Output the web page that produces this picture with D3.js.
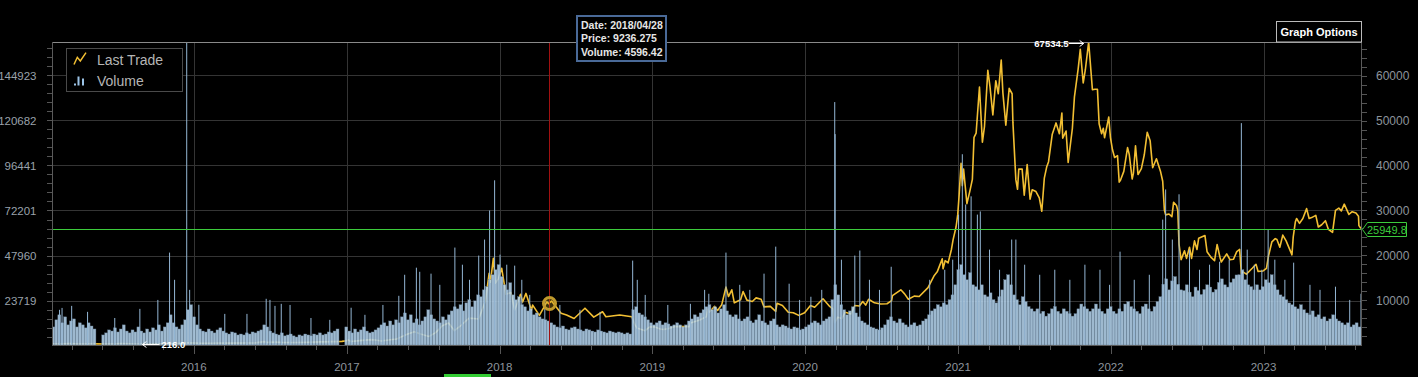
<!DOCTYPE html>
<html>
<head>
<meta charset="utf-8">
<script src="https://cdn.jsdelivr.net/npm/d3@7"></script>
<style>
  body { margin: 0; background: #000; }
  svg { display: block; font-family: "Liberation Sans", Arial, sans-serif; }
</style>
</head>
<body>
<svg id="chart" width="1418" height="377"></svg>
<script>
// ---- data ----
let lastTrade = [
  ["2015-01-27",272],["2015-02-10",220],["2015-02-20",245],["2015-03-11",296],["2015-03-25",247],["2015-04-14",219],
  ["2015-05-10",241],["2015-06-01",224],["2015-06-28",250],["2015-07-12",310],["2015-07-31",284],["2015-08-18",230],
  ["2015-08-24",216],["2015-09-15",230],["2015-10-05",240],["2015-10-25",288],["2015-11-04",403],["2015-11-11",305],
  ["2015-11-30",378],["2015-12-15",465],["2015-12-31",430],
  ["2016-01-15",378],["2016-02-10",380],["2016-03-01",432],["2016-03-31",416],["2016-04-30",448],["2016-05-27",472],
  ["2016-06-17",750],["2016-06-23",590],["2016-07-15",666],["2016-08-02",545],["2016-08-31",574],["2016-09-30",609],
  ["2016-10-31",700],["2016-11-30",742],["2016-12-20",800],["2016-12-31",963],
  ["2017-01-04",1130],["2017-01-11",780],["2017-01-31",970],["2017-02-28",1190],["2017-03-10",1100],["2017-03-24",890],
  ["2017-04-15",1180],["2017-04-30",1350],["2017-05-25",2400],["2017-06-11",2960],["2017-06-26",2450],["2017-07-16",1900],
  ["2017-08-01",2750],["2017-08-17",4300],["2017-09-01",4900],["2017-09-15",3200],["2017-10-01",4400],["2017-10-20",6000],
  ["2017-11-12",5800],["2017-11-28",9800],["2017-12-07",16000],["2017-12-10",14000],["2017-12-17",19300],["2017-12-22",13800],
  ["2017-12-29",14800],
  ["2018-01-06",17100],["2018-01-16",11300],["2018-01-28",11700],["2018-02-06",7800],["2018-02-20",11300],["2018-02-25",9600],
  ["2018-03-05",11500],["2018-03-18",7800],["2018-03-21",8900],["2018-04-06",6600],["2018-04-24",9600],["2018-04-28",9236.275],
  ["2018-05-05",9800],["2018-05-28",7100],["2018-06-10",6700],["2018-06-28",5900],["2018-07-24",8200],["2018-08-14",6200],
  ["2018-09-04",7400],["2018-09-12",6300],["2018-10-15",6700],["2018-11-13",6300],["2018-11-20",4600],["2018-11-25",3800],
  ["2018-12-15",3200],["2018-12-25",4000],
  ["2019-01-06",4050],["2019-01-20",3550],["2019-01-28",3450],["2019-02-08",3650],["2019-02-24",4100],["2019-03-31",4100],
  ["2019-04-02",4900],["2019-04-23",5500],["2019-05-10",6300],["2019-05-14",8000],["2019-05-17",7300],["2019-05-30",8600],
  ["2019-06-06",7700],["2019-06-16",9000],["2019-06-26",12900],["2019-07-02",10800],["2019-07-10",12300],["2019-07-16",9400],
  ["2019-07-31",10100],["2019-08-06",11900],["2019-08-15",10000],["2019-08-28",9700],["2019-09-06",10500],["2019-09-18",10200],
  ["2019-09-25",8500],["2019-10-10",8600],["2019-10-23",7500],["2019-10-26",9300],["2019-11-08",8800],["2019-11-22",7300],
  ["2019-12-04",7200],["2019-12-17",6600],["2019-12-31",7200],
  ["2020-01-14",8800],["2020-01-24",8400],["2020-02-13",10300],["2020-02-29",8600],["2020-03-08",8000],["2020-03-12",4900],
  ["2020-03-19",6200],["2020-03-29",5900],["2020-04-06",7300],["2020-04-20",6900],["2020-04-29",8800],["2020-05-10",8700],
  ["2020-05-18",9700],["2020-05-25",8900],["2020-06-01",10200],["2020-06-15",9400],["2020-06-30",9150],["2020-07-15",9200],
  ["2020-07-26",9900],["2020-07-28",11000],["2020-08-17",12300],["2020-08-26",11400],["2020-09-04",10200],["2020-09-18",10900],
  ["2020-09-30",10800],["2020-10-21",12800],["2020-11-05",15500],["2020-11-12",16300],["2020-11-24",19200],["2020-11-26",17000],
  ["2020-12-01",18800],["2020-12-08",18300],["2020-12-16",21300],["2020-12-20",23500],["2020-12-27",26300],["2020-12-31",29000],
  ["2021-01-03",32900],["2021-01-08",40500],["2021-01-11",35500],["2021-01-14",39200],["2021-01-22",31500],["2021-01-29",34300],
  ["2021-02-04",36900],["2021-02-08",46300],["2021-02-13",47200],["2021-02-21",57500],["2021-02-28",45200],["2021-03-05",48700],
  ["2021-03-13",61200],["2021-03-18",57700],["2021-03-25",51300],["2021-04-01",58900],["2021-04-07",56000],["2021-04-14",63500],
  ["2021-04-18",56200],["2021-04-25",49000],["2021-05-03",57200],["2021-05-10",56000],["2021-05-12",49500],["2021-05-19",36800],
  ["2021-05-23",34700],["2021-05-26",39200],["2021-06-03",39200],["2021-06-08",33400],["2021-06-15",40200],["2021-06-22",32500],
  ["2021-06-27",34600],["2021-07-06",34200],["2021-07-14",32800],["2021-07-20",29800],["2021-07-26",37200],["2021-08-01",39800],
  ["2021-08-05",40800],["2021-08-14",47000],["2021-08-23",49500],["2021-08-31",47100],["2021-09-06",51700],["2021-09-08",46100],
  ["2021-09-16",47700],["2021-09-21",40700],["2021-10-01",48200],["2021-10-06",55300],["2021-10-15",61600],["2021-10-20",65900],
  ["2021-10-27",58400],["2021-11-01",61300],["2021-11-09",67534.5],["2021-11-12",64000],["2021-11-18",56900],["2021-11-24",57000],
  ["2021-11-30",57000],["2021-12-04",49300],["2021-12-10",47100],["2021-12-14",48300],["2021-12-17",46200],["2021-12-27",50800],
  ["2021-12-31",46300],
  ["2022-01-05",43500],["2022-01-10",41800],["2022-01-17",42200],["2022-01-21",36300],["2022-01-24",36700],["2022-02-01",38700],
  ["2022-02-10",44000],["2022-02-14",42500],["2022-02-21",37000],["2022-02-24",38300],["2022-03-01",44400],["2022-03-07",38000],
  ["2022-03-15",39300],["2022-03-22",42400],["2022-03-29",47400],["2022-04-05",45500],["2022-04-11",39500],["2022-04-20",41500],
  ["2022-04-30",38600],["2022-05-05",36500],["2022-05-09",30100],["2022-05-12",29000],["2022-05-20",29200],["2022-05-27",28600],
  ["2022-05-31",31800],["2022-06-07",31100],["2022-06-10",30000],["2022-06-13",22500],["2022-06-18",19000],["2022-06-26",21000],
  ["2022-07-01",19300],["2022-07-08",21800],["2022-07-13",19300],["2022-07-20",23200],["2022-07-26",21300],["2022-07-30",23800],
  ["2022-08-14",24400],["2022-08-19",20800],["2022-08-28",19600],["2022-09-06",18800],["2022-09-12",22400],["2022-09-19",19500],
  ["2022-09-22",18500],["2022-10-05",20300],["2022-10-13",19000],["2022-10-21",19100],["2022-10-29",20800],["2022-11-05",21300],
  ["2022-11-09",15900],["2022-11-13",16300],["2022-11-21",15800],["2022-12-05",17100],["2022-12-14",18000],["2022-12-19",16400],
  ["2022-12-31",16500],
  ["2023-01-08",17100],["2023-01-13",19900],["2023-01-21",23000],["2023-01-29",23700],["2023-02-02",23500],["2023-02-09",21800],
  ["2023-02-16",24500],["2023-02-24",23200],["2023-03-10",20100],["2023-03-13",24100],["2023-03-18",27400],["2023-03-21",28200],
  ["2023-03-28",27100],["2023-04-05",28200],["2023-04-14",30400],["2023-04-20",28200],["2023-04-26",28400],["2023-05-06",28900],
  ["2023-05-12",26300],["2023-05-20",26800],["2023-05-29",27700],["2023-06-05",25800],["2023-06-15",25100],["2023-06-22",30000],
  ["2023-06-30",30500],["2023-07-06",29900],["2023-07-13",31400],["2023-07-24",29100],["2023-08-01",29700],["2023-08-10",29400],
  ["2023-08-16",28700],["2023-08-17",26600],["2023-08-22",25949.8]
];

// weekly volume (thousands), weeks starting 2015-01-27
let volumeStart = "2015-01-27";
let weeklyVolumeK = [
  9.7,13.5,16.2,11.9,15.1,10.8,12.9,14.0,9.7,11.9,10.8,9.2,11.9,10.2,8.6,
  0,0,
  5.4,6.5,8.1,7.5,9.2,7.0,8.6,10.8,7.5,6.5,8.1,7.0,9.7,7.5,6.5,8.6,7.0,9.2,8.1,10.8,7.5,9.7,11.9,
  16.2,11.9,9.7,8.6,10.8,13.5,18.9,
  21.6,15.1,10.8,8.6,7.5,7.0,8.6,7.5,6.5,8.1,9.2,7.5,6.5,5.9,7.0,6.5,5.4,
  5.9,5.4,6.5,5.9,7.0,6.5,7.5,8.1,10.8,9.7,
  7.5,6.5,5.9,5.4,6.5,4.9,5.4,5.9,4.9,4.3,5.4,4.9,5.9,5.4,4.9,5.9,5.4,6.5,5.4,5.9,7.0,6.5,7.5,8.6,
  0,0,
  9.7,7.5,6.5,8.6,7.0,8.1,9.7,7.5,6.5,7.0,8.1,9.2,10.8,11.9,10.2,12.9,10.8,13.5,
  11.9,15.1,17.2,13.5,16.2,11.9,14.0,10.8,12.9,15.1,18.9,16.2,14.0,12.9,11.9,15.1,13.5,16.2,18.3,
  20.5,19.4,21.6,18.3,22.6,24.3,20.5,23.7,26.9,25.9,29.6,31.3,35.0,
  37.7,40.4,43.1,36.7,32.3,29.6,33.4,
  26.9,24.3,25.9,21.6,20.5,18.3,19.4,16.2,17.2,15.1,14.0,13.5,12.9,
  11.9,10.8,9.7,9.2,10.2,8.6,8.1,9.2,9.7,8.6,8.1,7.5,8.6,8.1,7.5,7.0,8.1,7.5,7.0,6.5,7.5,7.0,6.5,7.0,6.5,5.9,6.5,
  5.9,18.9,20.5,
  17.2,16.2,15.1,13.5,11.9,10.8,11.9,12.9,10.8,11.9,11.3,10.2,10.8,11.9,10.8,9.7,10.8,12.9,14.0,16.2,15.1,17.2,18.9,20.5,
  21.6,18.9,20.5,17.2,19.4,21.6,18.3,16.2,15.1,16.2,14.0,12.9,14.0,15.1,12.9,11.9,13.5,16.2,
  12.9,11.9,10.8,12.9,14.0,10.8,9.7,10.8,10.2,9.2,8.6,9.7,9.2,8.1,8.6,9.7,10.8,11.9,12.9,11.9,10.8,12.9,14.0,
  15.1,24.3,32.3,26.9,
  21.6,18.9,16.2,18.3,20.5,17.2,15.1,12.9,11.9,10.8,9.7,9.2,8.6,8.1,9.2,10.8,13.5,
  15.1,12.9,11.9,14.0,11.9,10.8,9.7,10.8,11.9,10.2,10.8,12.9,14.0,
  16.2,18.3,19.4,21.6,20.5,22.6,21.6,24.3,26.9,
  32.3,40.4,43.1,37.7,35.0,38.8,32.3,31.3,29.6,32.3,26.9,25.9,28.0,24.3,22.6,25.9,29.6,35.0,37.7,32.3,26.9,24.3,21.6,
  25.9,23.3,20.6,19.4,18.1,19.4,16.8,18.1,15.5,16.8,19.4,20.6,18.1,16.8,19.4,18.1,16.8,15.5,16.8,19.4,22.0,20.6,19.4,18.1,
  19.4,22.0,19.4,18.1,16.8,19.4,20.6,18.1,16.8,19.4,18.1,22.0,23.3,20.6,19.4,18.1,16.8,20.6,22.0,19.4,18.1,20.6,23.3,25.9,
  32.6,35.5,29.6,34.4,36.7,32.6,29.6,
  29.2,32.3,28.4,25.9,31.1,29.2,27.1,29.8,32.3,31.1,28.4,29.8,33.6,35.5,32.3,31.1,33.6,35.5,37.6,
  37.7,40.4,35.0,32.3,31.3,29.6,32.3,29.6,31.3,35.0,33.4,37.7,32.3,
  29.6,26.9,25.9,24.3,22.6,21.6,20.5,19.4,21.6,18.9,17.2,16.2,18.3,15.1,16.2,14.0,15.1,12.9,14.0,16.2,14.0,12.9,11.9,10.8,
  11.9,9.7,10.8,11.9,9.7
];

// single-day volume spikes (thousands)
let volumeSpikes = [
  ["2015-02-14",18.9],["2015-02-20",19.9],["2015-03-15",21.0],["2015-04-22",17.8],["2015-06-26",14.5],["2015-08-25",19.4],
  ["2015-10-07",24.2],["2015-11-04",49.6],["2015-11-16",35.0],["2015-12-15",175],["2015-12-22",29.6],
  ["2016-01-13",21.6],["2016-03-15",16.7],["2016-05-07",16.7],["2016-06-22",24.8],["2016-07-01",24.2],["2016-07-13",21.0],
  ["2016-07-28",22.1],["2016-08-18",21.5],["2016-10-07",14.5],["2016-11-21",13.5],
  ["2017-01-11",20.0],["2017-02-13",16.2],["2017-03-28",21.5],["2017-05-05",26.4],["2017-05-19",37.7],["2017-06-16",41.5],
  ["2017-06-24",39.3],["2017-07-21",38.3],["2017-08-11",32.3],["2017-09-16",52.3],["2017-10-04",43.1],["2017-10-21",35.0],
  ["2017-11-12",48.0],["2017-11-26",56.6],["2017-12-08",72.2],["2017-12-20",88.4],
  ["2018-01-02",48.5],["2018-01-18",43.1],["2018-02-06",42.6],["2018-02-23",35.0],["2018-03-14",26.9],["2018-04-19",24.2],
  ["2018-05-25",21.5],["2018-07-12",18.9],["2018-08-29",17.8],["2018-11-15",45.3],["2018-11-26",35.0],["2018-12-15",26.9],
  ["2019-02-07",21.5],["2019-04-02",22.1],["2019-05-06",29.6],["2019-05-16",27.5],["2019-06-26",49.6],["2019-07-29",32.3],
  ["2019-08-22",29.6],["2019-09-25",38.3],["2019-10-23",52.8],["2019-11-24",32.9],["2019-12-19",24.2],
  ["2020-01-15",25.9],["2020-02-10",29.6],["2020-03-12",130.4],["2020-03-13",113.2],["2020-03-28",45.8],["2020-04-29",48.0],
  ["2020-05-11",50.7],["2020-06-03",35.0],["2020-06-27",29.6],["2020-07-25",42.0],["2020-09-07",29.6],["2020-10-25",35.0],
  ["2020-11-30",40.4],["2020-12-19",45.8],
  ["2021-01-02",70.0],["2021-01-11",102.4],["2021-01-19",75.4],["2021-02-01",79.8],["2021-02-16",70.0],["2021-02-23",71.7],
  ["2021-03-17",51.2],["2021-04-10",40.4],["2021-05-09",56.6],["2021-05-19",56.6],["2021-06-09",43.1],["2021-07-15",37.7],
  ["2021-08-20",40.4],["2021-09-25",35.0],["2021-10-31",43.1],["2021-12-06",40.4],["2021-12-29",32.3],
  ["2022-01-23",50.1],["2022-02-26",35.0],["2022-04-03",37.7],["2022-05-05",67.3],["2022-05-12",83.5],["2022-05-28",56.6],
  ["2022-06-13",80.9],["2022-07-08",51.2],["2022-08-01",40.4],["2022-08-25",43.1],["2022-09-18",44.7],["2022-10-11",45.8],
  ["2022-11-09",119.1],["2022-11-23",51.2],["2022-12-10",43.1],["2022-12-28",40.4],
  ["2023-01-12",62.0],["2023-01-28",45.8],["2023-02-21",35.0],["2023-03-14",44.2],["2023-04-22",32.3],["2023-05-16",29.6],
  ["2023-06-22",31.3],["2023-07-26",24.2],["2023-08-22",27.5]
];

let volumeTicks = [23719, 47960, 72201, 96441, 120682, 144923];
let priceTicks = [10000, 20000, 30000, 40000, 50000, 60000];
let yearTicks = ["2016","2017","2018","2019","2020","2021","2022","2023"];
let hoverPoint = {date: "2018-04-28", price: 9236.275, volume: 4596.42};
let seriesNames = ["Last Trade", "Volume"];

// ---- chart ----
let width = 1418, height = 377;
let plot = {left: 52, right: 1361, top: 42, bottom: 345};
let parse = d3.utcParse("%Y-%m-%d");
let fmtDate = d3.utcFormat("%Y/%m/%d");

function make_scales() {
  return {
    x: d3.scaleUtc()
      .domain([parse("2015-01-27"), parse("2023-08-22")])
      .range([plot.left, plot.right]),
    price: d3.scaleLinear()
      .domain([0, 67534.5])
      .range([plot.bottom, plot.top]),
    vol: d3.scaleLinear()
      .domain([0, 162640])
      .range([plot.bottom, plot.top])
  }
}

let scales = make_scales();
let svg = d3.select("#chart");

svg.append("rect")
  .attr("width", width).attr("height", height).attr("fill", "#000");

svg.append("defs").append("clipPath").attr("id", "clip")
  .append("rect")
  .attr("x", plot.left).attr("y", plot.top)
  .attr("width", plot.right - plot.left).attr("height", plot.bottom - plot.top);

// grid
let grid = svg.append("g").attr("stroke", "#343434").attr("stroke-width", 1);
grid.selectAll("line.h").data(volumeTicks).enter().append("line")
  .attr("x1", plot.left).attr("x2", plot.right)
  .attr("y1", d => Math.round(scales.vol(d)) + 0.5)
  .attr("y2", d => Math.round(scales.vol(d)) + 0.5);
grid.selectAll("line.v").data(yearTicks).enter().append("line")
  .attr("y1", plot.top).attr("y2", plot.bottom)
  .attr("x1", d => Math.round(scales.x(parse(d + "-01-01"))) + 0.5)
  .attr("x2", d => Math.round(scales.x(parse(d + "-01-01"))) + 0.5);

let body = svg.append("g").attr("clip-path", "url(#clip)");

// price line (under the volume bars)
let priceData = lastTrade.map(d => ({date: parse(d[0]), value: d[1]}));
let line = d3.line()
  .x(d => scales.x(d.date))
  .y(d => scales.price(d.value));
body.append("path")
  .datum(priceData)
  .attr("d", line)
  .attr("fill", "none")
  .attr("stroke", "#f2bf33")
  .attr("stroke-width", 1.6)
  .attr("stroke-linejoin", "round");

// volume bars
let t0 = parse(volumeStart);
let volData = weeklyVolumeK.map((v, i) => ({
  date: d3.utcDay.offset(t0, 7 * i),
  end: d3.utcDay.offset(t0, 7 * (i + 1)),
  value: v * 1000
}));
body.append("g")
  .selectAll("rect")
  .data(volData).enter()
  .append("rect")
  .attr("x", d => scales.x(d.date))
  .attr("width", d => scales.x(d.end) - scales.x(d.date))
  .attr("y", d => scales.vol(d.value))
  .attr("height", d => scales.vol(0) - scales.vol(d.value))
  .attr("fill", "#b6d4ee")
  .attr("fill-opacity", 0.87)
  .attr("stroke", "#627a90")
  .attr("stroke-width", 0.4);

body.append("g")
  .selectAll("rect")
  .data(volumeSpikes).enter()
  .append("rect")
  .attr("x", d => scales.x(parse(d[0])) - 0.5)
  .attr("width", 1)
  .attr("y", d => scales.vol(d[1] * 1000))
  .attr("height", d => scales.vol(0) - scales.vol(d[1] * 1000))
  .attr("fill", "#94b6d4");

// last price line
let last = priceData[priceData.length - 1];
let yLast = Math.round(scales.price(last.value)) + 0.5;
svg.append("line")
  .attr("x1", plot.left).attr("x2", plot.right)
  .attr("y1", yLast).attr("y2", yLast)
  .attr("stroke", "#3ccc3c").attr("stroke-width", 1);

// hover marker
let hx = Math.round(scales.x(parse(hoverPoint.date))) + 0.5;
svg.append("line")
  .attr("x1", hx).attr("x2", hx)
  .attr("y1", plot.top).attr("y2", plot.bottom)
  .attr("stroke", "#a01010").attr("stroke-width", 1);
svg.append("circle")
  .attr("cx", hx).attr("cy", scales.price(hoverPoint.price))
  .attr("r", 6)
  .attr("fill", "rgba(200,160,40,0.3)")
  .attr("stroke", "#c09a2c").attr("stroke-width", 3);

// frame
let frame = svg.append("g").attr("fill", "none");
frame.append("line").attr("x1", plot.left).attr("x2", plot.right + 1)
  .attr("y1", plot.top + 0.5).attr("y2", plot.top + 0.5).attr("stroke", "#8a8a8a");
frame.append("line").attr("x1", plot.left + 0.5).attr("x2", plot.left + 0.5)
  .attr("y1", plot.top).attr("y2", plot.bottom).attr("stroke", "#5a5a5a");
frame.append("line").attr("x1", plot.right + 0.5).attr("x2", plot.right + 0.5)
  .attr("y1", plot.top).attr("y2", plot.bottom).attr("stroke", "#5a5a5a");
frame.append("line").attr("x1", plot.left).attr("x2", plot.right + 1)
  .attr("y1", plot.bottom + 0.5).attr("y2", plot.bottom + 0.5).attr("stroke", "#5a5a5a");

// left axis (volume)
let volStep = (volumeTicks[1] - volumeTicks[0]) / 5;
let volMinor = d3.range(-4, 30).map(k => volumeTicks[0] + k * volStep)
  .filter(v => v >= 0 && v <= 162640);
svg.append("g").selectAll("line").data(volMinor).enter().append("line")
  .attr("x1", plot.left - 5).attr("x2", plot.left)
  .attr("y1", d => Math.round(scales.vol(d)) + 0.5)
  .attr("y2", d => Math.round(scales.vol(d)) + 0.5)
  .attr("stroke", "#555");
svg.append("g").selectAll("text").data(volumeTicks).enter().append("text")
  .attr("x", 36.5).attr("y", d => scales.vol(d) + 4.5)
  .attr("text-anchor", "end")
  .attr("font-size", 11.5)
  .attr("fill", "#9aa2ab")
  .text(d => d);

// right axis (price)
let priceMinor = d3.range(2000, 67534.5, 2000);
svg.append("g").selectAll("line").data(priceMinor).enter().append("line")
  .attr("x1", plot.right + 1).attr("x2", plot.right + 6)
  .attr("y1", d => Math.round(scales.price(d)) + 0.5)
  .attr("y2", d => Math.round(scales.price(d)) + 0.5)
  .attr("stroke", "#555");
svg.append("g").selectAll("text").data(priceTicks).enter().append("text")
  .attr("x", 1376).attr("y", d => scales.price(d) + 4.5)
  .attr("font-size", 12)
  .attr("fill", "#8d949c")
  .text(d => d);

// bottom axis (time)
let minorDates = [];
for (let y = 2015; y <= 2023; y++) {
  let a = Date.UTC(y, 0, 1), b = Date.UTC(y + 1, 0, 1);
  for (let k = 1; k < 5; k++) minorDates.push(new Date(a + (b - a) * k / 5));
}
minorDates = minorDates.filter(d => d >= scales.x.domain()[0] && d <= scales.x.domain()[1]);
svg.append("g").selectAll("line").data(minorDates).enter().append("line")
  .attr("x1", d => Math.round(scales.x(d)) + 0.5)
  .attr("x2", d => Math.round(scales.x(d)) + 0.5)
  .attr("y1", plot.bottom + 1).attr("y2", plot.bottom + 5)
  .attr("stroke", "#555");
svg.append("g").selectAll("line").data(yearTicks).enter().append("line")
  .attr("x1", d => Math.round(scales.x(parse(d + "-01-01"))) + 0.5)
  .attr("x2", d => Math.round(scales.x(parse(d + "-01-01"))) + 0.5)
  .attr("y1", plot.bottom + 1).attr("y2", plot.bottom + 9)
  .attr("stroke", "#555");
svg.append("g").selectAll("text").data(yearTicks).enter().append("text")
  .attr("x", d => scales.x(parse(d + "-01-01")))
  .attr("y", 371)
  .attr("text-anchor", "middle")
  .attr("font-size", 11.5)
  .attr("fill", "#8d949c")
  .text(d => d);

// min / max labels
let maxP = priceData.reduce((a, b) => b.value > a.value ? b : a);
let minP = priceData.reduce((a, b) => b.value < a.value ? b : a);
let arrow = (g, x1, x2, y) => {
  g.append("line").attr("x1", x1).attr("x2", x2).attr("y1", y).attr("y2", y)
    .attr("stroke", "#fff").attr("stroke-width", 1);
  let s = x2 > x1 ? -1 : 1;
  g.append("path")
    .attr("d", `M${x2 + s * 4},${y - 3}L${x2},${y}L${x2 + s * 4},${y + 3}`)
    .attr("fill", "none").attr("stroke", "#fff").attr("stroke-width", 1);
};
let mx = scales.x(maxP.date), my = Math.round(scales.price(maxP.value)) + 1.5;
let gMax = svg.append("g");
arrow(gMax, mx - 20, mx - 5, my);
gMax.append("text").attr("x", mx - 20).attr("y", my + 3.5)
  .attr("text-anchor", "end").attr("font-size", 9.5).attr("font-weight", "bold")
  .attr("fill", "#fff").text(maxP.value.toFixed(1));
let nx = scales.x(minP.date), ny = Math.round(scales.price(minP.value)) + 0.5;
let gMin = svg.append("g");
arrow(gMin, nx + 20, nx + 3, ny);
gMin.append("text").attr("x", nx + 22).attr("y", ny + 3.5)
  .attr("font-size", 9.5).attr("font-weight", "bold")
  .attr("fill", "#fff").text(minP.value.toFixed(1));

// last price tag
let tag = svg.append("g");
tag.append("path")
  .attr("d", `M${plot.right + 1.5},${yLast}L${plot.right + 6.5},${yLast - 7}L1406.5,${yLast - 7}L1406.5,${yLast + 7}L${plot.right + 6.5},${yLast + 7}Z`)
  .attr("fill", "#000").attr("stroke", "#3ccc3c").attr("stroke-width", 1);
tag.append("text").attr("x", 1367).attr("y", yLast + 4)
  .attr("font-size", 11).attr("fill", "#3ccc3c")
  .text(last.value.toFixed(1));

// legend
let legend = svg.append("g");
legend.append("rect")
  .attr("x", 66.5).attr("y", 48.5).attr("width", 116).attr("height", 43)
  .attr("fill", "#000").attr("stroke", "#4a4a4a");
legend.append("path")
  .attr("d", "M74,64.5L77.3,57.3L80.3,61L86,52.7")
  .attr("fill", "none").attr("stroke", "#f2bf33").attr("stroke-width", 1.5);
legend.append("g").selectAll("rect")
  .data([[74, 2], [77.5, 9], [82, 7]]).enter().append("rect")
  .attr("x", d => d[0]).attr("width", 2)
  .attr("y", d => 85.5 - d[1]).attr("height", d => d[1])
  .attr("fill", "#9cc3e6");
legend.selectAll("text").data(seriesNames).enter().append("text")
  .attr("x", 97).attr("y", (d, i) => 65 + i * 21)
  .attr("font-size", 14).attr("fill", "#b5b5b5")
  .text(d => d);

// tooltip
let tip = svg.append("g");
tip.append("rect")
  .attr("x", 577).attr("y", 16).attr("width", 89).attr("height", 45)
  .attr("fill", "#000").attr("stroke", "#4a6a98").attr("stroke-width", 2);
tip.selectAll("text")
  .data(["Date: " + fmtDate(parse(hoverPoint.date)),
         "Price: " + hoverPoint.price,
         "Volume: " + hoverPoint.volume]).enter()
  .append("text")
  .attr("x", 581).attr("y", (d, i) => 29 + i * 13.3)
  .attr("font-size", 10.5).attr("font-weight", "bold").attr("fill", "#e6e6e6")
  .text(d => d);

// graph options button
svg.append("rect")
  .attr("x", 1276.5).attr("y", 21.5).attr("width", 85).attr("height", 20.5)
  .attr("fill", "#000").attr("stroke", "#bbb");
svg.append("text")
  .attr("x", 1319).attr("y", 35.5).attr("text-anchor", "middle")
  .attr("font-size", 11).attr("font-weight", "bold").attr("fill", "#fff")
  .text("Graph Options");

// scroller indicator
svg.append("rect")
  .attr("x", 444).attr("y", 374).attr("width", 47).attr("height", 3)
  .attr("fill", "#33cc33");
</script>
</body>
</html>
